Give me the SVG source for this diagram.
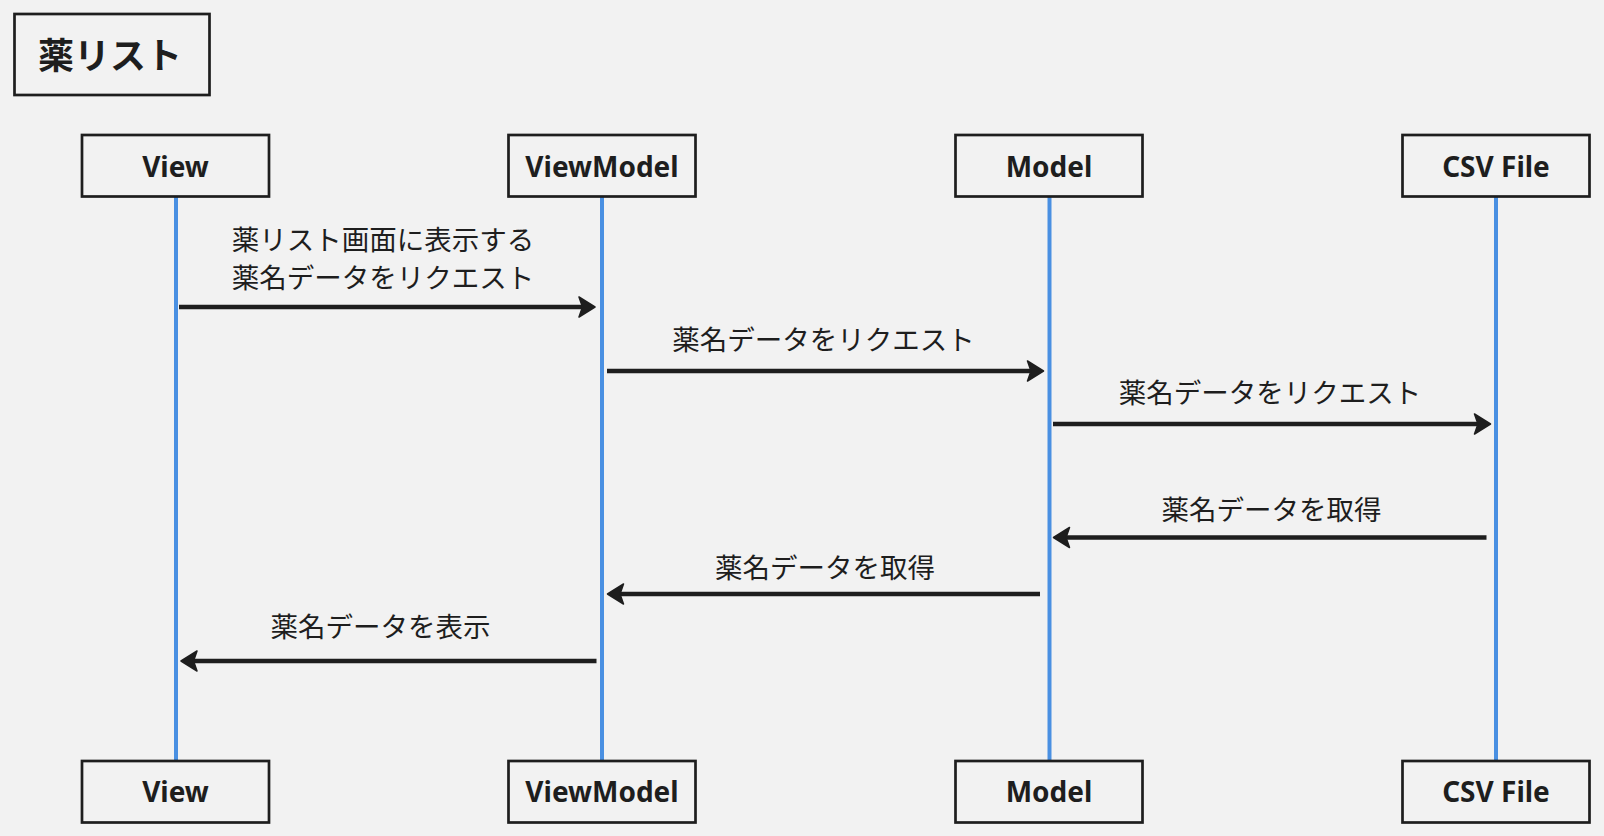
<svg xmlns="http://www.w3.org/2000/svg" width="1604" height="836" viewBox="0 0 1604 836">
  <style>
    .bg { fill: #f2f2f2; }
    .box { fill: #f2f2f2; stroke: #1e1e1e; stroke-width: 2.7; }
    .life { stroke: #4a90e2; stroke-width: 4; fill: none; }
    .msg { stroke: #1e1e1e; stroke-width: 4.5; fill: none; marker-end: url(#arrow); }
    .plabel { font-family: "Noto Sans", "Noto Sans CJK JP", sans-serif; font-weight: 700; font-size: 28px; fill: #1e1e1e; text-anchor: middle; }
    .title { font-family: "Noto Sans CJK JP", "Noto Sans", sans-serif; font-weight: 700; font-size: 36px; fill: #1e1e1e; text-anchor: middle; }
    .mlabel { font-family: "Noto Sans CJK JP", "Noto Sans", sans-serif; font-weight: 400; font-size: 27.5px; fill: #1e1e1e; text-anchor: middle; }
  </style>
  <defs>
    <marker id="arrow" markerUnits="userSpaceOnUse" viewBox="-10 -12 24 24" markerWidth="24" markerHeight="24" refX="0" refY="0" orient="auto">
      <path d="M-7,-10 L9,0 L-7,10 L-3.5,0 Z" fill="#1e1e1e" stroke="#1e1e1e" stroke-width="1.5" stroke-linejoin="round"/>
    </marker>
  </defs>
  <rect class="bg" x="0" y="0" width="1604" height="836"/>

  <g id="title">
    <rect class="box" x="14.5" y="14" width="195" height="81"/>
    <text class="title" x="110" y="69">薬リスト</text>
  </g>

  <g id="lifelines">
    <line class="life" x1="176" y1="197" x2="176" y2="760"/>
    <line class="life" x1="602" y1="197" x2="602" y2="760"/>
    <line class="life" x1="1049.5" y1="197" x2="1049.5" y2="760"/>
    <line class="life" x1="1496" y1="197" x2="1496" y2="760"/>
  </g>

  <g id="view-top">
    <rect class="box" x="82" y="135" width="187" height="61.5"/>
    <text class="plabel" x="175.5" y="176.5">View</text>
  </g>
  <g id="viewmodel-top">
    <rect class="box" x="508.5" y="135" width="187" height="61.5"/>
    <text class="plabel" x="602" y="176.5">ViewModel</text>
  </g>
  <g id="model-top">
    <rect class="box" x="955.5" y="135" width="187" height="61.5"/>
    <text class="plabel" x="1049" y="176.5">Model</text>
  </g>
  <g id="csv-top">
    <rect class="box" x="1402.5" y="135" width="187" height="61.5"/>
    <text class="plabel" x="1496" y="176.5">CSV File</text>
  </g>

  <g id="view-bottom">
    <rect class="box" x="82" y="761" width="187" height="61.5"/>
    <text class="plabel" x="175.5" y="801.5">View</text>
  </g>
  <g id="viewmodel-bottom">
    <rect class="box" x="508.5" y="761" width="187" height="61.5"/>
    <text class="plabel" x="602" y="801.5">ViewModel</text>
  </g>
  <g id="model-bottom">
    <rect class="box" x="955.5" y="761" width="187" height="61.5"/>
    <text class="plabel" x="1049" y="801.5">Model</text>
  </g>
  <g id="csv-bottom">
    <rect class="box" x="1402.5" y="761" width="187" height="61.5"/>
    <text class="plabel" x="1496" y="801.5">CSV File</text>
  </g>

  <g id="connectors">
    <line class="msg" x1="179" y1="307" x2="586" y2="307"/>
    <line class="msg" x1="607" y1="371" x2="1034.5" y2="371"/>
    <line class="msg" x1="1053" y1="424" x2="1481.5" y2="424"/>
    <line class="msg" x1="1486.5" y1="537.5" x2="1062.5" y2="537.5"/>
    <line class="msg" x1="1040" y1="594" x2="616.5" y2="594"/>
    <line class="msg" x1="596.5" y1="661" x2="190" y2="661"/>
  </g>

  <g id="labels">
    <text class="mlabel" x="383" y="249.5">薬リスト画面に表示する</text>
    <text class="mlabel" x="383" y="288">薬名データをリクエスト</text>
    <text class="mlabel" x="823.5" y="350">薬名データをリクエスト</text>
    <text class="mlabel" x="1270" y="403">薬名データをリクエスト</text>
    <text class="mlabel" x="1271.5" y="520">薬名データを取得</text>
    <text class="mlabel" x="825" y="577.5">薬名データを取得</text>
    <text class="mlabel" x="380.5" y="636.5">薬名データを表示</text>
  </g>
</svg>
